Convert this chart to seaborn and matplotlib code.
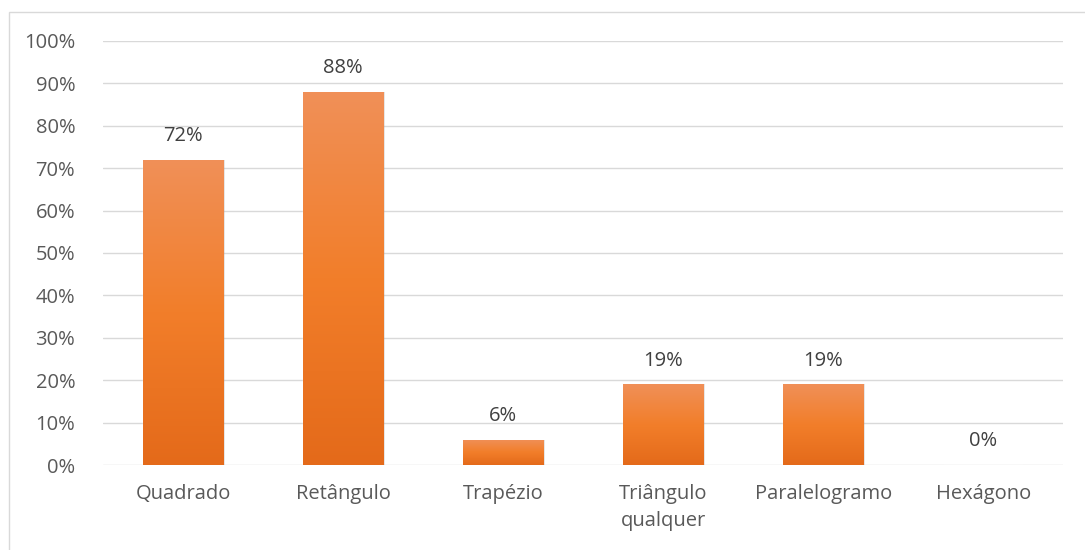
import numpy as np
import matplotlib
matplotlib.use("Agg")
import matplotlib.pyplot as plt
import seaborn as sns
import pandas as pd
from matplotlib.colors import LinearSegmentedColormap
from matplotlib.patches import Rectangle

categories = ["Quadrado", "Retângulo", "Trapézio", "Triângulo\nqualquer", "Paralelogramo", "Hexágono"]
values = [72, 88, 6, 19, 19, 0]
labels = ["72%", "88%", "6%", "19%", "19%", "0%"]
yticks = [0, 10, 20, 30, 40, 50, 60, 70, 80, 90, 100]

sns.set_theme(style="white")
plt.rcParams['font.family'] = ['Open Sans', 'DejaVu Sans']
txt = "#595959"
fs = 14.5

fig = plt.figure(figsize=(10.85, 5.5), dpi=100)
ax = fig.add_axes([0.0949, 0.1545, 0.885, 0.771])

df = pd.DataFrame({"cat": categories, "val": values})
sns.barplot(data=df, x="cat", y="val", color="#ED7D31", width=0.5, ax=ax, zorder=3)

ax.set_ylim(0, 100)
ax.set_xlim(-0.5, len(categories) - 0.5)
ax.set_yticks(yticks)
ax.set_yticklabels([f"{t}%" for t in yticks], color=txt, fontsize=fs)
ax.tick_params(axis="x", colors=txt, labelsize=fs, pad=14, length=0)
ax.tick_params(axis="y", length=0, pad=20)
for t in ax.get_xticklabels():
    t.set_linespacing(1.45)
ax.set_xlabel("")
ax.set_ylabel("")
for s in ax.spines.values():
    s.set_visible(False)
ax.yaxis.grid(True, color="#D9D9D9", linewidth=1.0, zorder=0)
ax.set_axisbelow(True)

cmap = LinearSegmentedColormap.from_list("og", ["#E46A1A", "#F27E2A", "#F09058"])
grad = np.linspace(0, 1, 256).reshape(-1, 1)
for p in ax.patches:
    x0, y0 = p.get_x(), p.get_y()
    w, h = p.get_width(), p.get_height()
    if h <= 0:
        continue
    sh = Rectangle((x0 + 0.012, y0), w, h, transform=ax.transData,
                   facecolor="#000000", alpha=0.12, edgecolor="none", zorder=2.5)
    ax.add_patch(sh)
    im = ax.imshow(grad, cmap=cmap, origin="lower", aspect="auto",
                   extent=[x0, x0 + w, y0, y0 + h], zorder=4)
    im.set_clip_path(p)
    p.set_facecolor("none")

ax.set_xlim(-0.5, len(categories) - 0.5)
ax.set_ylim(0, 100)

for i, (v, lab) in enumerate(zip(values, labels)):
    ax.annotate(lab, (i, v), xytext=(0, 10), textcoords="offset points",
                ha="center", va="bottom", color="#404040", fontsize=fs, zorder=5)

border = Rectangle((9 / 1085, -0.1), 1.2, 1 - 12 / 550 + 0.1, transform=fig.transFigure,
                   fill=False, edgecolor="#D9D9D9", linewidth=1.0)
fig.patches.append(border)

fig.savefig("out.png", dpi=100)
